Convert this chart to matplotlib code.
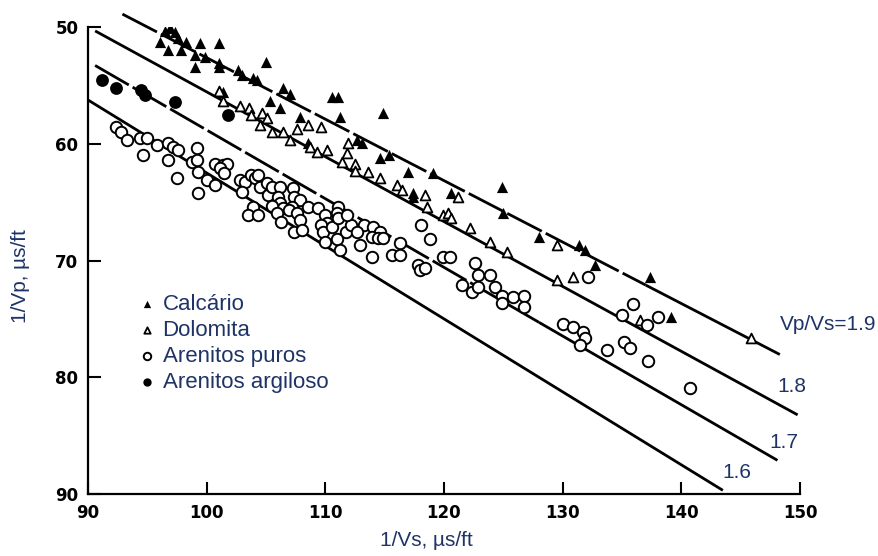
import matplotlib
matplotlib.use('Agg')
import matplotlib.pyplot as plt
import numpy as np

plt.rcParams['font.family'] = ['Liberation Sans', 'DejaVu Sans']

# ---------------- data ----------------
ratios = [1.9, 1.8, 1.7, 1.6]
ratio_labels = ['Vp/Vs=1.9', '1.8', '1.7', '1.6']
line_x_start = [92.9, 90.6, 90.6, 90.0]
line_x_end = [148.3, 149.8, 148.1, 143.5]
line_dash_until = [137.0, 90.6, 128.0, 90.0]   # dashed part of each line
label_x = [148.3, 148.1, 147.45, 143.5]
label_y = [75.5, 80.8, 85.6, 88.2]

cal_x = [96.5, 96.9, 97.3, 97.6, 96.1, 96.7, 97.8, 98.3, 99.4, 101.0, 99.0, 99.9, 99.0, 101.0,
         101.0, 102.6, 103.0, 103.9, 104.2, 105.0, 106.4, 107.0, 101.4, 105.3, 106.2, 107.9,
         110.6, 111.1, 111.2, 114.9, 112.7, 113.1, 114.6, 115.4, 108.5, 117.0, 119.1, 117.4,
         117.4, 120.6, 124.9, 125.0, 128.0, 131.4, 131.9, 132.7, 137.4, 139.1]
cal_y = [50.3, 50.1, 50.4, 50.9, 51.3, 52.0, 52.0, 51.3, 51.4, 51.4, 52.4, 52.6, 53.4, 53.1,
         53.4, 53.7, 54.1, 54.4, 54.5, 53.0, 55.2, 55.7, 55.6, 56.3, 56.9, 57.7,
         56.0, 56.0, 57.7, 57.4, 59.7, 59.9, 61.2, 61.0, 59.9, 62.4, 62.5, 64.2,
         64.6, 64.2, 63.7, 65.9, 68.0, 68.7, 69.1, 70.4, 71.4, 74.8]

dol_x = [101.0, 101.4, 102.8, 103.6, 103.7, 104.7, 105.1, 104.5, 105.5, 106.4, 107.6, 108.5,
         109.6, 107.0, 108.7, 109.3, 110.1, 111.4, 111.8, 111.9, 112.5, 112.5, 113.6, 114.6,
         116.0, 116.5, 118.4, 118.6, 119.9, 120.3, 120.6, 121.2, 122.2, 123.9, 125.3, 129.5,
         129.5, 130.9, 136.5, 145.9]
dol_y = [55.5, 56.3, 56.8, 56.9, 57.5, 57.4, 57.8, 58.4, 59.0, 59.0, 58.7, 58.4,
         58.6, 59.7, 60.3, 60.7, 60.5, 61.6, 60.8, 59.9, 61.7, 62.3, 62.4, 62.9,
         63.5, 64.0, 64.4, 65.4, 66.1, 65.9, 66.4, 64.6, 67.2, 68.4, 69.3, 68.7,
         71.7, 71.4, 75.1, 76.6]

pur_x = [92.4, 92.8, 93.3, 94.4, 95.0, 94.6, 95.8, 96.7, 97.2, 97.6, 99.2, 96.7, 98.8, 99.2,
         99.3, 97.5, 99.3,
         100.7, 101.4, 101.7, 101.1, 101.5, 100.0, 100.7, 102.8, 103.2, 103.7, 104.1, 104.3,
         104.5, 103.0, 105.1, 105.2, 105.5, 106.2, 106.0, 106.2, 106.4, 107.3, 107.4, 107.9,
         107.2, 103.9, 103.5, 104.3, 105.5, 105.9, 106.9, 107.6, 107.9, 106.3, 107.4,
         108.5, 109.4, 110.0, 111.1, 111.0, 110.1, 109.6, 109.8, 110.6, 111.1, 111.7, 112.2,
         111.0, 110.0, 112.9, 113.3, 114.0, 114.6, 113.9, 114.4, 114.9, 116.3, 112.7, 108.0,
         111.8, 111.2, 113.9, 115.6, 116.3,
         118.1, 118.8, 117.8, 118.0, 118.4, 119.9, 120.5, 122.6, 122.9, 123.9, 121.5, 122.4,
         122.9, 124.3, 124.9, 124.9, 125.8, 126.7, 126.7,
         130.0, 130.9, 131.7, 131.9, 131.5, 132.1, 133.7, 135.0, 135.9, 135.2, 135.7, 137.1,
         138.0, 137.2, 140.7]
pur_y = [58.6, 59.0, 59.7, 59.5, 59.5, 61.0, 60.1, 59.9, 60.3, 60.5, 60.4, 61.4, 61.6, 61.4,
         62.4, 62.9, 64.2,
         61.7, 61.8, 61.7, 62.1, 62.5, 63.1, 63.5, 63.1, 63.3, 62.7, 62.9, 62.7,
         63.7, 64.1, 63.4, 64.4, 63.7, 63.7, 64.6, 65.1, 65.5, 63.8, 64.6, 64.8,
         65.4, 65.4, 66.1, 66.1, 65.3, 65.9, 65.7, 65.9, 66.5, 66.7, 67.6,
         65.4, 65.5, 66.1, 65.4, 65.9, 66.8, 67.0, 67.6, 67.1, 66.4, 67.6, 67.0,
         68.2, 68.4, 68.7, 67.0, 67.1, 67.6, 68.0, 68.1, 68.1, 68.5, 67.6, 67.4,
         66.1, 69.1, 69.7, 69.5, 69.5,
         67.0, 68.2, 70.4, 70.8, 70.6, 69.7, 69.7, 70.2, 71.2, 71.2, 72.1, 72.7,
         72.3, 72.3, 73.0, 73.6, 73.1, 73.0, 74.0,
         75.4, 75.7, 76.1, 76.6, 77.2, 71.4, 77.7, 74.7, 73.7, 77.0, 77.5, 75.5,
         74.8, 78.6, 80.9]

arg_x = [91.2, 92.4, 94.5, 94.8, 97.3, 101.8]
arg_y = [54.5, 55.2, 55.4, 55.8, 56.4, 57.5]

xticks = [90, 100, 110, 120, 130, 140, 150]
yticks = [50, 60, 70, 80, 90]

# ---------------- figure ----------------
W, H = 879, 556
fig = plt.figure(figsize=(W / 100, H / 100), dpi=100)
ax = fig.add_axes([88 / W, 1 - 494 / H, 712 / W, 467 / H])
ax.set_xlim(90, 150)
ax.set_ylim(90, 50)

navy = '#1F3366'

# reference lines
for r, x0, x1, xd, lab, lx, ly in zip(ratios, line_x_start, line_x_end, line_dash_until,
                                      ratio_labels, label_x, label_y):
    if xd > x0:
        xs = np.array([x0, xd])
        ax.plot(xs, xs / r, color='black', lw=2.0, dashes=(14, 1.6), clip_on=False,
                solid_capstyle='butt')
        xs2 = np.array([xd, x1])
    else:
        xs2 = np.array([x0, x1])
    ax.plot(xs2, xs2 / r, color='black', lw=2.0, clip_on=False, solid_capstyle='butt')
    ax.text(lx, ly, lab, fontsize=15, color=navy, ha='left', va='center')

# data points
h1 = ax.scatter(cal_x, cal_y, marker='^', s=65, color='black', linewidths=0,
                label='Calcário', zorder=3)
h2 = ax.scatter(dol_x, dol_y, marker='^', s=50, facecolors='white', edgecolors='black',
                linewidths=1.3, label='Dolomita', zorder=3)
h3 = ax.scatter(pur_x, pur_y, marker='o', s=68, facecolors='white', edgecolors='black',
                linewidths=1.4, label='Arenitos puros', zorder=3)
h4 = ax.scatter(arg_x, arg_y, marker='o', s=85, color='black', linewidths=0,
                label='Arenitos argiloso', zorder=3)

leg = ax.legend(handles=[h1, h2, h3, h4], loc='upper left',
                bbox_to_anchor=(137 / W, 1 - 294 / H), bbox_transform=fig.transFigure,
                frameon=False, fontsize=16, markerscale=0.65, handletextpad=0.25,
                labelspacing=0.22, handlelength=0.9, borderaxespad=0, borderpad=0)
for t in leg.get_texts():
    t.set_color(navy)

# axes styling
for s in ['top', 'right']:
    ax.spines[s].set_visible(False)
for s in ['left', 'bottom']:
    ax.spines[s].set_linewidth(1.6)
ax.set_xticks(xticks)
ax.set_yticks(yticks)
ax.tick_params(direction='in', length=9, width=1.5, pad=7, labelsize=12)
for t in ax.get_xticklabels() + ax.get_yticklabels():
    t.set_fontfamily('DejaVu Sans')
    t.set_fontweight('bold')

fig.text(426 / W, 1 - 540 / H, '1/Vs, µs/ft', fontsize=15, color=navy,
         ha='center', va='center')
fig.text(21 / W, 1 - 276 / H, '1/Vp, µs/ft', fontsize=15, color=navy,
         ha='center', va='center', rotation=90)

fig.savefig('out.png', dpi=100)
